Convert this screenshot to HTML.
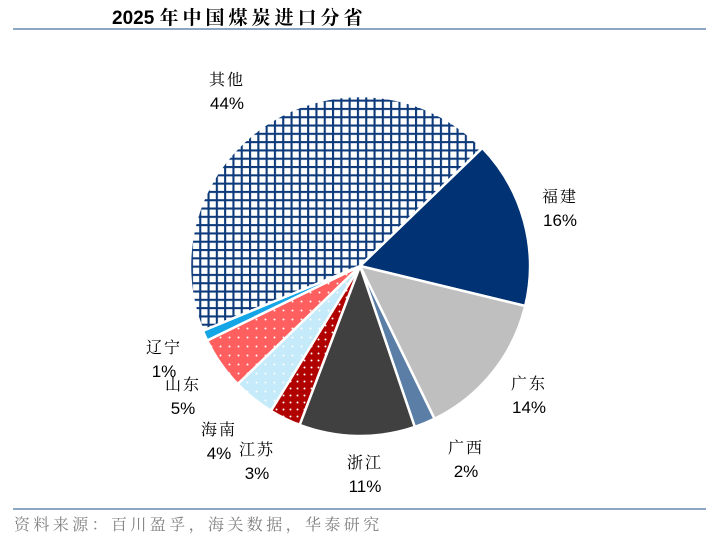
<!DOCTYPE html>
<html><head><meta charset="utf-8">
<style>
html,body{margin:0;padding:0;background:#fff;}
body{width:716px;height:539px;position:relative;overflow:hidden;font-family:"Liberation Sans","Noto Sans CJK SC",sans-serif;}
#title{position:absolute;left:112px;top:3px;font-size:19px;font-weight:bold;color:#000;white-space:nowrap;}
#title .cn{font-family:"Liberation Serif","Noto Serif CJK SC",serif;letter-spacing:4px;}
.rule{position:absolute;left:13px;width:693px;height:2px;background:#8ea6c4;}
#source{position:absolute;left:14px;top:512px;font-size:16px;color:#808080;font-family:"Liberation Serif","Noto Serif CJK SC",serif;letter-spacing:3.4px;white-space:nowrap;}
</style></head>
<body>
<div id="title">2025 <span class="cn">年中国煤炭进口分省</span></div>
<div class="rule" style="top:28px"></div>
<svg id="chart" width="716" height="539" style="position:absolute;left:0;top:0">
<defs>
<pattern id="grid" width="8.3" height="8.3" patternUnits="userSpaceOnUse">
<rect width="8.3" height="8.3" fill="#fff"/>
<path d="M0 1H8.3M1 0V8.3" stroke="#0d3a7a" stroke-width="2.2"/>
</pattern>
<pattern id="dotRed" width="9" height="9" patternUnits="userSpaceOnUse"><rect width="9" height="9" fill="#ff5f5f"/><circle cx="4.5" cy="4.5" r="1" fill="#fff"/></pattern>
<pattern id="dotBlue" width="9" height="9" patternUnits="userSpaceOnUse"><rect width="9" height="9" fill="#c5eaf9"/><circle cx="4.5" cy="4.5" r="1" fill="#fff"/></pattern>
<pattern id="dotDark" width="7" height="7" patternUnits="userSpaceOnUse"><rect width="7" height="7" fill="#b00000"/><circle cx="3.5" cy="3.5" r="1" fill="#fff"/></pattern>
</defs>
</svg>
<div class="rule" style="top:508px"></div>
<div id="source">资料来源：百川盈孚，海关数据，华泰研究</div>
<script>
const categories = ["福建","广东","广西","浙江","江苏","海南","山东","辽宁","其他"];
const values = [16,14,2,11,3,4,5,1,44];
const valueLabels = ["16%","14%","2%","11%","3%","4%","5%","1%","44%"];
const fills = ["#003274","#bfbfbf","#5a7ea6","#404040","url(#dotDark)","url(#dotBlue)","url(#dotRed)","#13a5e6","url(#grid)"];
const labelPos = [[560,196],[529,383],[466,447],[365,462],[257,449],[219,429],[183,384],[164,347],[227,79]];
const svg = document.getElementById('chart');
const NS = 'http://www.w3.org/2000/svg';
const cx = 360, cy = 266, r = 170, startDeg = -44;
const total = values.reduce((a,b)=>a+b,0);
let a = startDeg * Math.PI/180;
values.forEach((v,i)=>{
  const sweep = v/total*2*Math.PI;
  const a2 = a + sweep;
  const x1 = cx + r*Math.cos(a), y1 = cy + r*Math.sin(a);
  const x2 = cx + r*Math.cos(a2), y2 = cy + r*Math.sin(a2);
  const p = document.createElementNS(NS,'path');
  p.setAttribute('d',`M${cx} ${cy}L${x1} ${y1}A${r} ${r} 0 ${sweep>Math.PI?1:0} 1 ${x2} ${y2}Z`);
  p.setAttribute('fill',fills[i]);
  p.setAttribute('stroke','#fff');
  p.setAttribute('stroke-width','2.5');
  
  
  svg.appendChild(p);
  a = a2;
  const [lx,ly] = labelPos[i];
  const t = document.createElementNS(NS,'text');
  t.setAttribute('x',lx); t.setAttribute('y',ly+6);
  t.setAttribute('text-anchor','middle');
  t.setAttribute('font-size','16');
  t.setAttribute('font-family','"Liberation Serif","Noto Serif CJK SC",serif');
  t.setAttribute('letter-spacing','2');
  t.textContent = categories[i];
  
  
  svg.appendChild(t);
  const t2 = document.createElementNS(NS,'text');
  t2.setAttribute('x',lx); t2.setAttribute('y',ly+30);
  t2.setAttribute('text-anchor','middle');
  t2.setAttribute('font-size','17');
  t2.setAttribute('font-family','"Liberation Sans",sans-serif');
  t2.textContent = valueLabels[i];
  
  
  svg.appendChild(t2);
});
</script>
</body></html>
